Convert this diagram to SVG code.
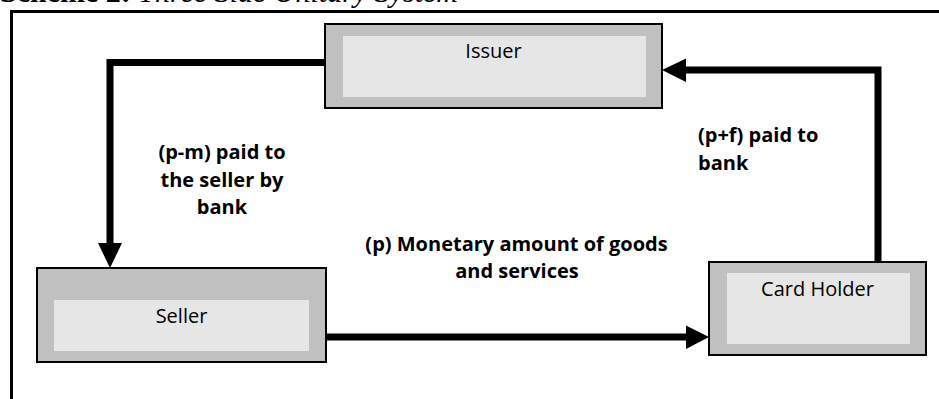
<svg xmlns="http://www.w3.org/2000/svg" width="939" height="399" viewBox="0 0 939 399">
<style>
.outer{fill:#c0c0c0;stroke:#000;stroke-width:2}
.inner{fill:#e6e6e6}
.nt{font-family:"Open Sans","Noto Sans",sans-serif;font-size:20px;fill:#000;text-anchor:middle}
.lb{font-family:"Open Sans","Noto Sans",sans-serif;font-size:20px;font-weight:bold;fill:#000}
.ln{fill:none;stroke:#000;stroke-width:7}
.ah{fill:#000}
</style>
<rect width="939" height="399" fill="#fff"/>
<text x="0" y="2" font-family="'Liberation Serif','Times New Roman',serif" font-size="30"><tspan font-weight="bold">Scheme 2:</tspan><tspan font-style="italic"> Three Side Unitary System</tspan></text>
<path d="M11.5,399 V11.5 H939" fill="none" stroke="#000" stroke-width="3"/>
<g id="issuer">
<rect class="outer" x="325" y="24" width="337" height="84"/>
<rect class="inner" x="343" y="36" width="303" height="61"/>
<text class="nt" x="493.5" y="58">Issuer</text>
</g>
<g id="seller">
<rect class="outer" x="37" y="268" width="289" height="94"/>
<rect class="inner" x="54" y="300" width="255" height="51"/>
<text class="nt" x="181.5" y="323">Seller</text>
</g>
<g id="cardholder">
<rect class="outer" x="709" y="262" width="217" height="93"/>
<rect class="inner" x="727" y="273" width="183" height="71"/>
<text class="nt" x="817.5" y="296">Card Holder</text>
</g>
<g id="connectors">
<path class="ln" d="M325,62.5 H110 V244"/>
<polygon class="ah" points="98,243 122,243 110,268"/>
<path class="ln" d="M878,262 V70 H686"/>
<polygon class="ah" points="686,58.5 686,82 662,70"/>
<path class="ln" d="M326,337 H686"/>
<polygon class="ah" points="686,325.5 686,349 709,337"/>
</g>
<g id="labels">
<text class="lb" text-anchor="middle"><tspan x="222" y="159">(p-m) paid to</tspan><tspan x="222" y="187">the seller by</tspan><tspan x="222" y="214">bank</tspan></text>
<text class="lb"><tspan x="698" y="142">(p+f) paid to</tspan><tspan x="698" y="170">bank</tspan></text>
<text class="lb" text-anchor="middle"><tspan x="516.5" y="251">(p) Monetary amount of goods</tspan><tspan x="517" y="278">and services</tspan></text>
</g>
</svg>
